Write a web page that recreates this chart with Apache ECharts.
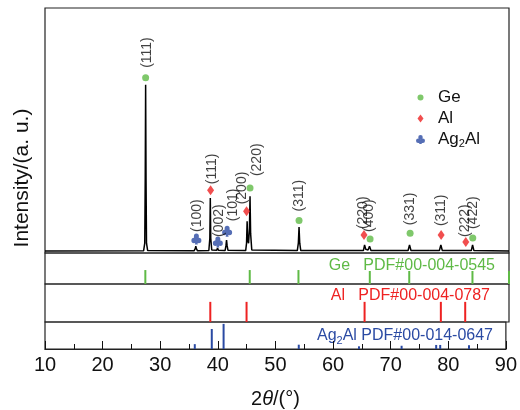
<!DOCTYPE html>
<html>
<head>
<meta charset="utf-8">
<script src="https://cdn.jsdelivr.net/npm/echarts@6/dist/echarts.min.js"></script>
<style>
  html, body { margin: 0; padding: 0; background: #fff; }
  #main { width: 520px; height: 410px; }
</style>
</head>
<body>
<div id="main"></div>
<script>
// measured XRD pattern (2theta, intensity)
const pattern = [
  [10, 0.8], [27.0, 0.9], [27.2, 4], [27.28, 30], [27.35, 68.7], [27.42, 30], [27.5, 4], [27.7, 1.0],
  [35.7, 0.9], [35.9, 1.8], [36.0, 2.8], [36.1, 1.8], [36.3, 0.9],
  [38.25, 1.0], [38.42, 6], [38.5, 22.4], [38.58, 6], [38.75, 1.2],
  [39.6, 1.1], [39.75, 2.0], [39.9, 1.1],
  [41.05, 1.0], [41.2, 3], [41.3, 5.3], [41.4, 3], [41.55, 1.1],
  [44.6, 1.0], [44.75, 4], [44.85, 13.0], [44.95, 5], [45.1, 4], [45.25, 10], [45.35, 23.2], [45.45, 8], [45.65, 1.2],
  [53.5, 1.0], [53.68, 4], [53.8, 10.6], [53.92, 4], [54.1, 1.0],
  [64.9, 1.0], [65.1, 3.3], [65.3, 1.5], [65.7, 1.2], [65.95, 2.8], [66.2, 1.0],
  [72.6, 1.0], [72.85, 3.3], [73.1, 1.0],
  [78.0, 1.0], [78.25, 3.3], [78.5, 1.0],
  [82.3, 1.0], [82.45, 1.6], [82.6, 1.1],
  [83.5, 1.0], [83.72, 3.3], [83.95, 1.0],
  [90, 0.8]
];

// phase markers on the pattern
const geMarks = [[27.35, 71.5], [45.35, 26.5], [53.8, 13.3], [66.05, 5.7], [72.95, 8.1], [83.75, 6.1]];
const geHkl = ['(111)', '(220)', '(311)', '(400)', '(331)', '(422)'];
const alMarks = [[38.55, 25.6], [44.75, 17], [65.0, 7.3], [78.3, 7.3], [82.55, 4.5]];
const alHkl = ['(111)', '(200)', '(220)', '(311)', '(222)'];
const agMarks = [[36.1, 5.7], [39.8, 4.5], [41.4, 8.9]];
const agHkl = ['(100)', '(002)', '(101)'];

// reference cards (2theta, relative height)
const geRef = [[27.3, 45], [45.3, 45], [53.7, 45], [66.0, 42], [72.8, 42], [83.7, 42], [90.0, 42]];
const alRef = [[38.5, 53], [44.75, 53], [65.1, 53], [78.25, 53], [82.45, 53]];
const agRef = [[36.0, 18], [38.95, 74], [41.0, 93], [54.05, 16], [64.5, 10], [71.9, 12], [77.9, 15], [78.6, 15], [83.6, 14]];

const xTicks = [10, 20, 30, 40, 50, 60, 70, 80, 90];

const FONT = 'Liberation Sans, Arial, sans-serif';
const GREEN = '#5fba46', RED = '#ee2222', BLUE = '#2a4aa3';
const CLUB = 'path://M2,3A3,3 0 1,1 8,3A3,3 0 1,1 2,3Z M-1,7.5A3,3 0 1,1 5,7.5A3,3 0 1,1 -1,7.5Z M5,7.5A3,3 0 1,1 11,7.5A3,3 0 1,1 5,7.5Z M5,5L6.8,12L3.2,12Z';

// label nudges [dx, gap above marker]
const geShift = [[1.5, 10], [7, 12], [0, 9], [-1, 7], [0, 8], [0.5, 9]];
const alShift = [[1.5, 6], [-4, 7], [-1, 6], [0, 9], [-1, 5]];
const agShift = [[0.5, 7], [1, 5], [6, 10]];

// label offset is applied in the rotated text frame
function marks(points, hkl, shift) {
  return points.map((p, i) => ({
    value: p,
    label: { formatter: hkl[i], offset: [shift[i][1], shift[i][0]] }
  }));
}

const hklLabel = {
  show: true, position: 'inside', rotate: 90, align: 'left', verticalAlign: 'middle',
  fontSize: 14, color: '#111', fontFamily: FONT
};

const chart = echarts.init(document.getElementById('main'));
const L = 45, W = 464;
const frame = { show: true, borderColor: '#222', borderWidth: 1.2, backgroundColor: 'transparent', left: L, width: W };

const xBase = { type: 'value', min: 10, max: 90, interval: 10, splitLine: { show: false } };
const hiddenX = Object.assign({}, xBase, { axisLine: { show: false }, axisTick: { show: false }, axisLabel: { show: false } });
const hiddenY = { type: 'value', min: 0, max: 100, show: false, splitLine: { show: false } };

chart.setOption({
  animation: false,
  textStyle: { fontFamily: FONT },
  grid: [
    Object.assign({ top: 8, height: 245 }, frame),
    Object.assign({ top: 253, height: 31 }, frame),
    Object.assign({ top: 284, height: 38 }, frame),
    Object.assign({ top: 322, height: 27 }, frame)
  ],
  xAxis: [
    Object.assign({ gridIndex: 0 }, hiddenX),
    Object.assign({ gridIndex: 1 }, hiddenX),
    Object.assign({ gridIndex: 2 }, hiddenX),
    Object.assign({ gridIndex: 3 }, xBase, {
      axisLine: { show: true, lineStyle: { color: '#222', width: 1.2 } },
      axisTick: { show: true, inside: true, length: 8, lineStyle: { color: '#111' } },
      minorTick: { show: true, splitNumber: 2, length: 5, lineStyle: { color: '#111' } },
      axisLabel: {
        color: '#111', fontSize: 20, margin: 6, fontFamily: FONT,
        formatter: v => xTicks.includes(v) ? String(v) : ''
      },
      name: '2{i|θ}/(°)', nameLocation: 'middle', nameGap: 40,
      nameTextStyle: { color: '#111', fontSize: 20, fontFamily: FONT, rich: { i: { fontStyle: 'italic', fontSize: 20, fontFamily: FONT } } }
    })
  ],
  yAxis: [0, 1, 2, 3].map(i => Object.assign({ gridIndex: i }, hiddenY)),
  legend: {
    orient: 'vertical', left: 411, top: 84, itemWidth: 9, itemHeight: 9, itemGap: 4,
    selectedMode: false,
    data: [
      { name: 'Ge', icon: 'path://M0,0M9,9M1.5,4.5a3,3 0 1,0 6,0a3,3 0 1,0 -6,0Z' },
      { name: 'Al', icon: 'path://M0,0M9,9M4.5,0.5L7.5,4.5L4.5,8.5L1.5,4.5Z' },
      { name: 'Ag2Al', icon: CLUB }
    ],
    formatter: n => n === 'Ag2Al' ? 'Ag{sub|2}Al' : n,
    textStyle: {
      fontSize: 17, color: '#111', fontFamily: FONT, padding: [0, 0, 0, 8],
      rich: { sub: { fontSize: 11, padding: [9, 0, 0, 0], fontFamily: FONT, color: '#111' } }
    }
  },
  graphic: [
    {
      type: 'text', x: 22, y: 178, rotation: Math.PI / 2,
      style: { text: 'Intensity/(a. u.)', font: '21px ' + FONT, fill: '#111', align: 'center', verticalAlign: 'middle' }
    },
    {
      type: 'text', x: 495, y: 266,
      style: { text: 'Ge   PDF#00-004-0545', font: '16px ' + FONT, fill: GREEN, align: 'right', verticalAlign: 'middle' }
    },
    {
      type: 'text', x: 490, y: 296,
      style: { text: 'Al   PDF#00-004-0787', font: '16px ' + FONT, fill: RED, align: 'right', verticalAlign: 'middle' }
    },
    {
      type: 'text', x: 493, y: 336,
      style: {
        text: 'Ag{sub|2}Al PDF#00-014-0647', font: '16px ' + FONT, fill: BLUE, align: 'right', verticalAlign: 'middle',
        rich: { sub: { fontSize: 11, padding: [9, 0, 0, 0], fontFamily: FONT, fill: BLUE } }
      }
    }
  ],
  series: [
    {
      name: 'pattern', type: 'line', xAxisIndex: 0, yAxisIndex: 0, data: pattern,
      showSymbol: false, lineStyle: { color: '#000', width: 1.5 }, z: 3
    },
    {
      name: 'Ge', type: 'scatter', xAxisIndex: 0, yAxisIndex: 0, symbol: 'circle', symbolSize: 7,
      itemStyle: { color: GREEN }, label: hklLabel, data: marks(geMarks, geHkl, geShift), z: 4
    },
    {
      name: 'Al', type: 'scatter', xAxisIndex: 0, yAxisIndex: 0, symbol: 'diamond', symbolSize: [7, 10],
      itemStyle: { color: RED }, label: hklLabel, data: marks(alMarks, alHkl, alShift), z: 4
    },
    {
      name: 'Ag2Al', type: 'scatter', xAxisIndex: 0, yAxisIndex: 0, symbol: CLUB, symbolSize: [10, 11],
      itemStyle: { color: BLUE }, label: hklLabel, data: marks(agMarks, agHkl, agShift), z: 4
    },
    {
      name: 'Ge ref', type: 'bar', xAxisIndex: 1, yAxisIndex: 1, data: geRef, barWidth: 2,
      itemStyle: { color: GREEN }
    },
    {
      name: 'Al ref', type: 'bar', xAxisIndex: 2, yAxisIndex: 2, data: alRef, barWidth: 2,
      itemStyle: { color: RED }
    },
    {
      name: 'Ag2Al ref', type: 'bar', xAxisIndex: 3, yAxisIndex: 3, data: agRef, barWidth: 2,
      itemStyle: { color: BLUE }
    }
  ]
});
</script>
</body>
</html>
